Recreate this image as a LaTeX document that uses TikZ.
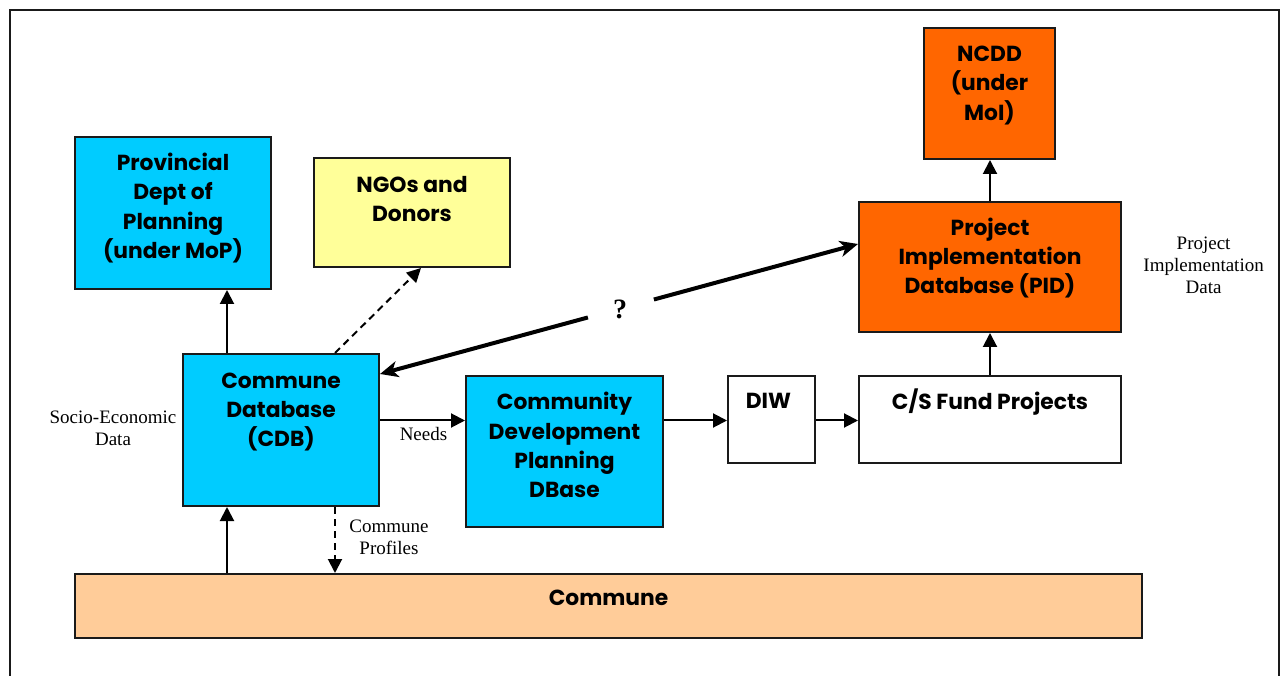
\documentclass[tikz,border=0pt]{standalone}
\usepackage{fontspec}
\usetikzlibrary{arrows.meta,calc}
\newfontfamily\lserif{Liberation Serif}
\newfontfamily\gothicfam{Poppins}
\newcommand\gothic{\gothicfam\bfseries\fontsize{21.8}{29.3}\selectfont}
\newcommand\gstrut{\rule{0pt}{20pt}}
\newcommand\sstrut{\rule{0pt}{16pt}}
\definecolor{cyanbox}{HTML}{00CCFF}
\definecolor{yelbox}{HTML}{FFFF99}
\definecolor{orabox}{HTML}{FF6600}
\definecolor{peabox}{HTML}{FFCC99}
\definecolor{edge}{HTML}{1A1A1A}
\begin{document}
\begin{tikzpicture}[x=1pt,y=-1pt,
  blk/.style={draw=edge, line width=2pt, rectangle, anchor=north west, inner sep=0pt},
  boxtxt/.style={anchor=north, inner sep=0pt, align=center, font=\gothic},
  lbl/.style={anchor=north, inner sep=0pt, align=center, font=\lserif\fontsize{19}{22}\selectfont},
  arr/.style={line width=2pt, -{Triangle[length=14pt,width=14pt]}},
  darr/.style={line width=2pt, dash pattern=on 7pt off 5pt, -{Triangle[length=14pt,width=14pt]}},
  tarr/.style={line width=4pt, -{Stealth[length=18pt,width=16pt,inset=5pt]}}]
\clip (0,0) rectangle (1286,676);
\fill[white] (0,0) rectangle (1286,676);
\draw[line width=2pt, draw=edge] (10,10) rectangle (1279,720);
% boxes
\node[blk, fill=cyanbox, minimum width=196pt, minimum height=152pt] (prov) at (74,136) {};
\node[blk, fill=yelbox, minimum width=196pt, minimum height=109pt] (ngo) at (313,157) {};
\node[blk, fill=orabox, minimum width=131pt, minimum height=131pt] (ncdd) at (923,27) {};
\node[blk, fill=orabox, minimum width=262pt, minimum height=130pt] (pid) at (858,201) {};
\node[blk, fill=cyanbox, minimum width=196pt, minimum height=152pt] (cdb) at (182,353) {};
\node[blk, fill=cyanbox, minimum width=197pt, minimum height=151pt] (cdp) at (465,375) {};
\node[blk, fill=white, minimum width=87pt, minimum height=87pt] (diw) at (727,375) {};
\node[blk, fill=white, minimum width=262pt, minimum height=87pt] (cs) at (858,375) {};
\node[blk, fill=peabox, minimum width=1067pt, minimum height=64pt] (comm) at (74,573) {};
% box texts
\node[boxtxt] (provT) at ($(prov.north)+(0,14.5)$) {\gstrut Provincial\\Dept of\\Planning\\(under MoP)};
\node[boxtxt] (ngoT) at ($(ngo.north)+(0,15)$) {\gstrut NGOs and\\Donors};
\node[boxtxt] (ncddT) at ($(ncdd.north)+(0,14.5)$) {\gstrut NCDD\\(under\\MoI)};
\node[boxtxt] (pidT) at ($(pid.north)+(0,14)$) {\gstrut Project\\Implementation\\Database (PID)};
\node[boxtxt] (cdbT) at ($(cdb.north)+(0,15)$) {\gstrut Commune\\Database\\(CDB)};
\node[boxtxt] (cdpT) at ($(cdp.north)+(0,14.5)$) {\gstrut Community\\Development\\Planning\\DBase};
\node[boxtxt] (diwT) at ($(diw.north)+(-3,13.5)$) {\gstrut DIW};
\node[boxtxt] (csT) at ($(cs.north)+(0,13.5)$) {\gstrut C/S Fund Projects};
\node[boxtxt] (commT) at ($(comm.north)+(0,12.5)$) {\gstrut Commune};
% labels
\node[lbl] (seL) at (113,407.3) {\sstrut Socio-Economic\\Data};
\node[lbl, anchor=base] (needL) at (423.5,440) {Needs};
\node[lbl] (cpL) at (389,516.7) {\sstrut Commune\\Profiles};
\node[lbl] (pidL) at (1203.6,233) {\sstrut Project\\Implementation\\Data};
\node[inner sep=0pt, font=\lserif\fontsize{28}{30}\selectfont\bfseries] (q) at (620,309) {?};
% connectors
\coordinate (a1) at ($(cdb.north west)+(45,0)$);
\coordinate (a2) at ($(cdb.north west)+(153,0)$);
\draw[arr] (a1) -- (a1 |- prov.south);
\draw[arr] (a1 |- comm.north) -- (a1 |- cdb.south);
\draw[darr] (a2 |- cdb.south) -- (a2 |- comm.north);
\draw[darr] (a2) -- ($(ngo.south west)+(108,0)$);
\coordinate (r) at ($(cdb.east)+(0,-9.5)$);
\draw[arr] (r) -- (r -| cdp.west);
\draw[arr] (r -| cdp.east) -- (r -| diw.west);
\draw[arr] (r -| diw.east) -- (r -| cs.west);
\draw[arr] (cs.north) -- (pid.south);
\draw[arr] (pid.north) -- (pid.north |- ncdd.south);
\coordinate (p1) at ($(cdb.north east)+(0,21)$);
\coordinate (p2) at ($(pid.north west)+(0,43)$);
\coordinate (g1) at ($(p1)!0.435!(p2)$);
\coordinate (g2) at ($(p1)!0.573!(p2)$);
\draw[tarr] (g1) -- (p1);
\draw[tarr] (g2) -- (p2);
\end{tikzpicture}
\end{document}
